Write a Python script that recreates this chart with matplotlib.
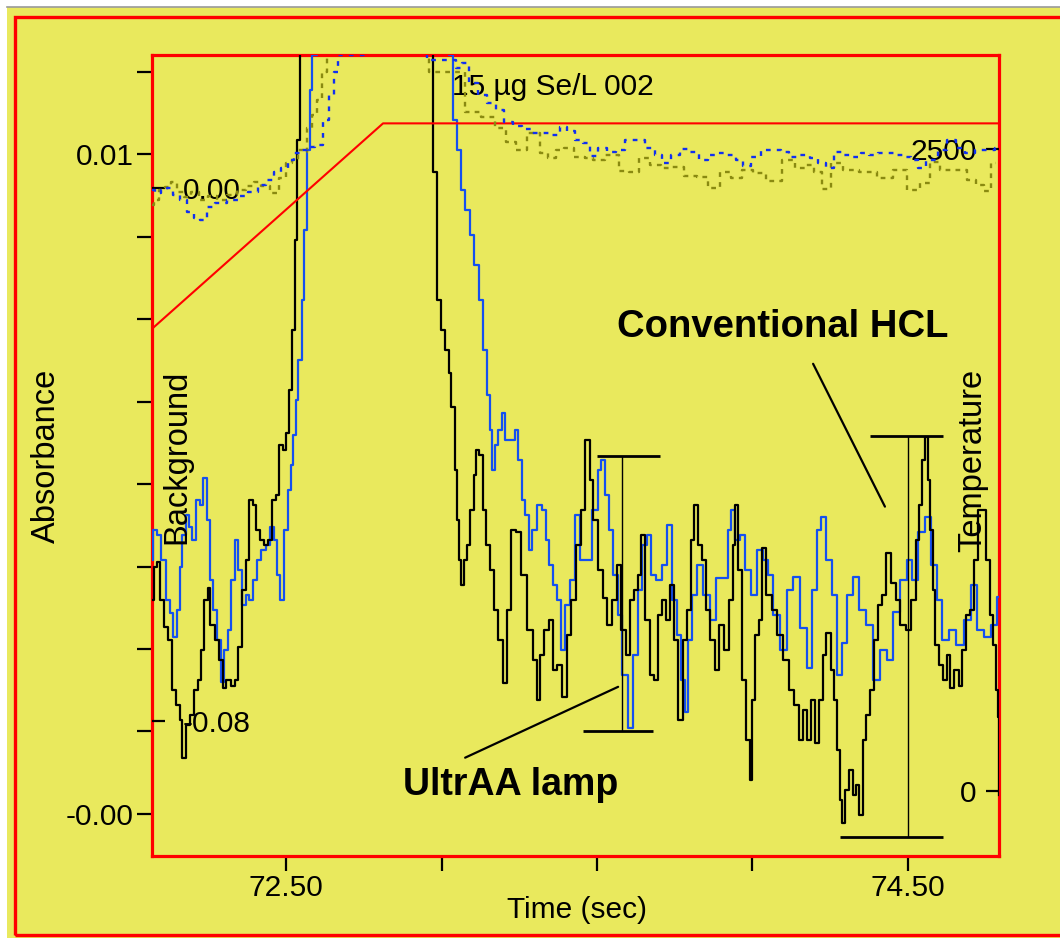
import matplotlib.pyplot as plt
import matplotlib.patches as patches
from matplotlib.lines import Line2D
import numpy as np

plt.rcParams['font.family'] = ['Liberation Sans', 'DejaVu Sans']

YELLOW = '#E9E95D'
BLUE = '#1450F0'

# conventional HCL signal, time (s) / absorbance x1000
hcl_time = [72.069, 72.079, 72.088, 72.101, 72.111, 72.127, 72.137, 72.153, 72.162, 72.172,
            72.182, 72.198, 72.211, 72.220, 72.230, 72.243, 72.252, 72.262, 72.278, 72.291,
            72.301, 72.314, 72.330, 72.342, 72.352, 72.365, 72.378, 72.387, 72.400, 72.410,
            72.423, 72.436, 72.449, 72.461, 72.474, 72.484, 72.494, 72.503, 72.513, 72.523,
            72.532, 72.539, 72.550, 72.770, 72.965, 72.982, 72.992, 73.005, 73.018, 73.027,
            73.037, 73.047, 73.053, 73.059, 73.066, 73.076, 73.088, 73.098, 73.108, 73.117,
            73.127, 73.137, 73.150, 73.162, 73.175, 73.191, 73.204, 73.217, 73.230, 73.249,
            73.265, 73.285, 73.301, 73.310, 73.323, 73.339, 73.352, 73.365, 73.381, 73.394,
            73.410, 73.426, 73.439, 73.455, 73.471, 73.481, 73.494, 73.510, 73.526, 73.539,
            73.555, 73.571, 73.584, 73.600, 73.613, 73.625, 73.638, 73.648, 73.661, 73.677,
            73.690, 73.703, 73.715, 73.728, 73.741, 73.754, 73.770, 73.783, 73.796, 73.809,
            73.818, 73.831, 73.844, 73.857, 73.873, 73.886, 73.899, 73.915, 73.931, 73.941,
            73.947, 73.960, 73.973, 73.986, 73.995, 74.005, 74.014, 74.027, 74.037, 74.053,
            74.072, 74.088, 74.108, 74.127, 74.143, 74.156, 74.169, 74.182, 74.195, 74.207,
            74.220, 74.233, 74.243, 74.259, 74.268, 74.275, 74.285, 74.291, 74.304, 74.317,
            74.330, 74.339, 74.349, 74.359, 74.371, 74.384, 74.397, 74.410, 74.423, 74.436,
            74.452, 74.468, 74.484, 74.503, 74.519, 74.532, 74.542, 74.551, 74.558, 74.568,
            74.577, 74.584, 74.593, 74.606, 74.619, 74.632, 74.641, 74.658, 74.670, 74.680,
            74.693, 74.706, 74.719, 74.732, 74.744, 74.757, 74.770, 74.780, 74.786, 74.793,
            74.793]
hcl_mabs = [1.89, 2.49, 2.58, 1.89, 1.40, 1.16, 0.25, -0.02, -0.29, -0.98,
            -0.38, -0.20, 0.25, 0.44, 0.98, 1.89, 2.11, 1.44, 1.16, 0.80,
            0.29, 0.44, 0.33, 0.44, 1.04, 2.07, 2.62, 3.71, 3.62, 3.17,
            2.98, 2.89, 2.98, 3.71, 3.80, 4.71, 4.62, 4.93, 5.71, 6.81,
            8.44, 10.26, 13.0, 30.0, 13.5, 9.68, 7.35, 6.81, 6.44, 6.02,
            5.41, 4.26, 3.35, 2.62, 2.17, 2.62, 2.89, 3.53, 4.17, 4.62,
            4.53, 3.53, 2.89, 2.44, 1.71, 1.16, 0.38, 1.71, 3.17, 3.13,
            2.35, 1.35, 0.80, 0.07, 0.89, 1.35, 1.53, 0.62, 0.71, 0.13,
            1.26, 1.89, 2.89, 3.53, 4.80, 4.08, 3.35, 2.44, 1.93, 1.44,
            1.89, 2.53, 1.35, 0.89, 1.89, 2.07, 2.35, 3.08, 1.53, 0.53,
            0.44, 1.62, 1.89, 1.53, 2.17, 1.16, -0.29, 1.16, 1.71, 2.98,
            3.62, 2.89, 2.62, 1.71, 1.16, 0.62, 1.44, 0.98, 1.89, 2.89,
            3.62, 2.44, 0.44, -0.66, -1.38, 0.07, 1.26, 1.53, 2.84, 1.98,
            1.71, 1.26, 0.80, 0.25, -0.02, -0.66, -0.11, -0.66, 0.07, -0.71,
            0.07, 0.89, 1.29, 0.62, 0.07, -0.84, -1.75, -2.17, -1.57, -1.20,
            -1.66, -1.47, -2.02, -0.66, -0.20, 0.25, 1.16, 1.80, 1.98, 2.75,
            2.20, 1.89, 1.44, 1.35, 1.89, 2.98, 3.62, 4.44, 4.86, 4.08,
            3.17, 2.07, 1.07, 0.71, 0.44, 0.89, 0.29, 0.62, 0.33, 0.98,
            1.62, 1.71, 2.62, 3.53, 3.53, 2.62, 1.62, 1.07, 0.25, -0.24,
            -1.66]

# UltrAA lamp signal
ultra_time = [72.069, 72.076, 72.092, 72.105, 72.121, 72.130, 72.143, 72.156, 72.162, 72.172,
              72.182, 72.191, 72.204, 72.217, 72.227, 72.240, 72.249, 72.259, 72.272, 72.285,
              72.294, 72.307, 72.317, 72.330, 72.339, 72.352, 72.365, 72.378, 72.387, 72.400,
              72.413, 72.429, 72.445, 72.455, 72.465, 72.474, 72.487, 72.500, 72.510, 72.519,
              72.529, 72.535, 72.545, 72.555, 72.561, 72.571, 72.580, 72.587, 72.609, 72.802,
              73.011, 73.034, 73.043, 73.056, 73.069, 73.085, 73.098, 73.114, 73.130, 73.140,
              73.150, 73.159, 73.166, 73.175, 73.188, 73.198, 73.211, 73.227, 73.243, 73.252,
              73.265, 73.275, 73.285, 73.297, 73.314, 73.330, 73.342, 73.352, 73.365, 73.378,
              73.391, 73.404, 73.420, 73.439, 73.452, 73.474, 73.494, 73.510, 73.519, 73.532,
              73.545, 73.558, 73.574, 73.590, 73.609, 73.625, 73.638, 73.654, 73.667, 73.683,
              73.699, 73.719, 73.732, 73.748, 73.764, 73.777, 73.786, 73.799, 73.815, 73.831,
              73.854, 73.876, 73.892, 73.915, 73.928, 73.937, 73.953, 73.966, 73.986, 74.005,
              74.024, 74.043, 74.056, 74.076, 74.098, 74.121, 74.140, 74.166, 74.185, 74.201,
              74.217, 74.227, 74.246, 74.265, 74.281, 74.297, 74.314, 74.333, 74.355, 74.378,
              74.397, 74.423, 74.442, 74.465, 74.487, 74.506, 74.522, 74.545, 74.564, 74.584,
              74.600, 74.622, 74.641, 74.667, 74.693, 74.715, 74.732, 74.757, 74.780, 74.793]
ultra_mabs = [2.62, 3.17, 3.08, 2.62, 1.89, 1.66, 1.22, 1.71, 2.49, 3.08,
              3.44, 3.22, 2.98, 3.71, 3.62, 4.11, 3.35, 2.26, 1.71, 1.16,
              0.40, 0.98, 1.35, 2.26, 2.98, 2.44, 1.80, 1.98, 1.89, 2.26,
              2.62, 2.80, 2.89, 3.22, 2.98, 2.35, 1.89, 3.17, 3.89, 4.35,
              4.90, 5.53, 6.26, 7.35, 8.63, 10.08, 11.17, 11.81, 13.0, 30.0,
              14.0, 11.81, 10.63, 10.08, 9.35, 8.99, 8.54, 7.99, 7.35, 6.44,
              5.62, 4.99, 4.26, 4.71, 4.99, 5.30, 4.80, 4.80, 4.99, 4.44,
              3.71, 3.44, 2.80, 3.17, 3.62, 3.53, 2.98, 2.53, 2.17, 1.89,
              0.98, 1.80, 2.26, 3.44, 2.62, 2.62, 3.53, 4.26, 4.44, 3.80,
              3.17, 2.35, 1.62, 0.53, -0.44, 0.89, 2.07, 2.89, 3.08, 2.35,
              2.26, 2.53, 3.26, 1.89, 1.26, 0.44, -0.15, 1.16, 1.98, 2.53,
              1.98, 1.53, 2.29, 2.29, 3.17, 3.53, 2.98, 3.08, 2.44, 1.98,
              2.80, 2.62, 2.35, 1.62, 0.98, 2.07, 2.31, 1.38, 0.66, 2.07,
              3.17, 3.40, 2.62, 1.98, 0.53, 1.11, 1.98, 2.31, 1.71, 1.44,
              0.44, 0.98, 0.80, 1.67, 2.26, 2.62, 2.26, 3.13, 3.40, 2.53,
              1.89, 1.16, 1.35, 1.07, 1.53, 2.17, 1.35, 1.22, 1.44, 1.95]

# background signals (absorbance x1000, background scale)
bg_hcl_time = [72.069, 72.085, 72.101, 72.121, 72.140, 72.159, 72.185, 72.207, 72.233, 72.262,
               72.297, 72.326, 72.359, 72.384, 72.407, 72.432, 72.468, 72.490, 72.510, 72.529,
               72.545, 72.561, 72.577, 72.593, 72.606, 72.625, 72.641, 72.867, 73.050, 73.101,
               73.156, 73.188, 73.227, 73.252, 73.301, 73.333, 73.355, 73.381, 73.404, 73.445,
               73.477, 73.500, 73.551, 73.590, 73.616, 73.654, 73.686, 73.725, 73.760, 73.802,
               73.844, 73.873, 73.921, 73.944, 73.986, 74.018, 74.069, 74.121, 74.153, 74.185,
               74.211, 74.236, 74.268, 74.314, 74.371, 74.429, 74.474, 74.522, 74.555, 74.584,
               74.625, 74.674, 74.706, 74.732, 74.754, 74.783]
bg_hcl_mabs = [-2.55, -1.8, -0.3, 0.15, 0.9, -0.6, -1.35, -0.6, -1.8, -1.2,
               -1.8, -1.05, -0.3, 0.3, 0.9, 0.3, -0.75, 1.5, 3.75, 4.2,
               5.7, 5.4, 9.0, 10.95, 13.2, 17.4, 20.7, 40.0, 17.4, 11.4,
               10.65, 9.0, 6.9, 5.7, 8.25, 5.25, 4.5, 5.7, 6.0, 4.65,
               4.5, 4.2, 4.95, 2.55, 2.4, 4.5, 3.45, 3.0, 3.15, 1.8,
               1.65, 0.0, 2.4, 1.5, 2.7, 2.25, 1.05, 4.2, 3.0, 3.45,
               2.4, -0.15, 3.75, 2.7, 2.4, 1.5, 2.7, -0.3, 0.75, 3.9,
               2.7, 2.7, 1.2, 0.45, -0.45, 3.75]

bg_ultra_time = [72.069, 72.088, 72.108, 72.127, 72.146, 72.169, 72.191, 72.214, 72.233, 72.256,
                 72.288, 72.330, 72.362, 72.394, 72.423, 72.449, 72.474, 72.494, 72.516, 72.535,
                 72.555, 72.577, 72.609, 72.629, 72.645, 72.661, 72.674, 72.867, 73.040, 73.053,
                 73.076, 73.101, 73.133, 73.162, 73.188, 73.214, 73.243, 73.275, 73.307, 73.339,
                 73.371, 73.394, 73.413, 73.445, 73.468, 73.490, 73.516, 73.548, 73.574, 73.606,
                 73.629, 73.677, 73.696, 73.722, 73.751, 73.780, 73.809, 73.844, 73.870, 73.889,
                 73.931, 73.960, 73.979, 74.014, 74.043, 74.079, 74.105, 74.133, 74.169, 74.198,
                 74.224, 74.246, 74.278, 74.307, 74.333, 74.362, 74.387, 74.420, 74.449, 74.474,
                 74.497, 74.522, 74.545, 74.568, 74.587, 74.609, 74.641, 74.667, 74.699, 74.732,
                 74.764, 74.793]
bg_ultra_mabs = [-0.3, -0.75, -0.3, 0.0, -1.05, -1.8, -3.6, -4.5, -4.8, -2.85,
                 -2.25, -1.8, -1.2, -0.6, 0.45, 1.2, 2.4, 3.0, 4.2, 5.25,
                 5.7, 6.15, 6.45, 10.2, 13.95, 17.4, 19.95, 40.0, 19.2, 18.0,
                 18.75, 15.75, 13.95, 12.75, 11.7, 9.9, 9.3, 8.85, 8.25, 8.25,
                 7.95, 9.15, 8.55, 7.2, 6.75, 4.8, 6.0, 5.4, 5.7, 7.2,
                 7.2, 6.0, 4.95, 3.75, 4.95, 5.85, 5.4, 4.2, 4.95, 5.25,
                 4.95, 4.2, 3.3, 4.65, 5.7, 5.7, 5.4, 4.65, 4.95, 4.5,
                 3.75, 3.0, 5.4, 4.95, 4.65, 5.25, 4.95, 5.25, 5.25, 4.95,
                 4.65, 4.2, 3.0, 4.2, 4.2, 5.7, 7.2, 6.0, 5.25, 5.7,
                 5.7, 6.0]

# furnace temperature program
temp_time = [72.069, 72.812, 74.793]
temp_c = [1800, 2600, 2600]

# noise ranges (min, max) marked with brackets
ultra_range = [-0.49, 4.51]
hcl_range = [-2.42, 4.88]

fig = plt.figure(figsize=(10.6, 9.38), dpi=100)
fig.patch.set_facecolor('white')
fig.add_artist(patches.Rectangle((0.0066, 0), 1, 0.9925, transform=fig.transFigure,
                                 facecolor=YELLOW, edgecolor='none', zorder=-2))
fig.add_artist(Line2D([0.0066, 1], [0.9925, 0.9925], transform=fig.transFigure,
                      color='#9a9a9a', lw=1.2, zorder=-1))
fig.add_artist(patches.Rectangle((0.0142, 0.0032), 1.02, 0.9787, transform=fig.transFigure,
                                 facecolor='none', edgecolor='red', lw=2.4, zorder=-1))

ax = fig.add_axes([0.1434, 0.0874, 0.7991, 0.8539])
ax.set_facecolor(YELLOW)
ax.set_xlim(72.069, 74.793)
ax.set_ylim(-2.77e-3, 11.81e-3)
for s in ax.spines.values():
    s.set_color('red')
    s.set_linewidth(2.3)

ax.set_xticks([72.5, 73.0, 73.5, 74.0, 74.5])
ax.set_xticklabels(['72.50', '', '', '', '74.50'])
yt = [(-2 + 1.5 * k) / 1000 for k in range(10)]
ax.set_yticks(yt)
ax.set_yticklabels(['-0.00', '', '', '', '', '', '', '', '0.01', ''])
ax.tick_params(direction='out', length=11, width=1.6, color='black', labelsize=21.5, pad=2)

# temperature axis
ax2 = ax.twinx()
for s in ax2.spines.values():
    s.set_visible(False)
ax2.set_ylim(-253, 2866)
ax2.plot(temp_time, temp_c, color='red', lw=1.5)
ax2.set_yticks([0, 2500])
ax2.set_yticklabels(['0', '2500'])
ax2.tick_params(axis='y', direction='in', length=9.5, width=1.6, labelsize=21.5, pad=-16)
for lab in ax2.get_yticklabels():
    lab.set_horizontalalignment('right')

# background axis
ax3 = ax.twinx()
for s in ax3.spines.values():
    s.set_visible(False)
ax3.set_ylim(-0.1003, 0.01996)
ax3.plot(bg_hcl_time, np.array(bg_hcl_mabs) / 1000, color='#8a8a10', lw=1.7,
         dashes=(2.0, 2.2), drawstyle='steps-mid')
ax3.plot(bg_ultra_time, np.array(bg_ultra_mabs) / 1000, color='#1030F0', lw=1.7,
         dashes=(2.0, 2.6), drawstyle='steps-mid')
ax3.yaxis.tick_left()
ax3.set_yticks([0, -0.08])
ax3.set_yticklabels(['0.00', '-0.08'])
ax3.tick_params(axis='y', direction='in', length=9.5, width=1.6, labelsize=21.5, pad=-22)
for lab in ax3.get_yticklabels():
    lab.set_horizontalalignment('left')

# main signals
ax.plot(ultra_time, np.array(ultra_mabs) / 1000, color=BLUE, lw=1.6, zorder=3,
        drawstyle='steps-mid')
ax.plot(hcl_time, np.array(hcl_mabs) / 1000, color='black', lw=1.6, zorder=4,
        drawstyle='steps-mid')

# noise range brackets
ax.vlines(73.580, ultra_range[0] / 1000, ultra_range[1] / 1000, color='black', lw=1.0, zorder=5)
ax.hlines(ultra_range[1] / 1000, 73.500, 73.703, color='black', lw=2.0, zorder=5)
ax.hlines(ultra_range[0] / 1000, 73.455, 73.680, color='black', lw=2.0, zorder=5)
ax.vlines(74.500, hcl_range[0] / 1000, hcl_range[1] / 1000, color='black', lw=1.0, zorder=5)
ax.hlines(hcl_range[1] / 1000, 74.378, 74.613, color='black', lw=2.0, zorder=5)
ax.hlines(hcl_range[0] / 1000, 74.281, 74.613, color='black', lw=2.0, zorder=5)

# leader lines
ax.annotate('', xy=(73.568, 0.31e-3), xytext=(73.076, -0.98e-3),
            arrowprops=dict(arrowstyle='-', color='black', lw=1.6, shrinkA=0, shrinkB=0))
ax.annotate('', xy=(74.426, 3.59e-3), xytext=(74.195, 6.19e-3),
            arrowprops=dict(arrowstyle='-', color='black', lw=1.6, shrinkA=0, shrinkB=0))

ax.text(0.549, 0.648, 'Conventional HCL', transform=ax.transAxes, fontsize=27.5,
        fontweight='bold', ha='left', va='baseline')
ax.text(0.2963, 0.0762, 'UltrAA lamp', transform=ax.transAxes, fontsize=27,
        fontweight='bold', ha='left', va='baseline')
ax.text(0.354, 0.950, '15 µg Se/L 002', transform=ax.transAxes, fontsize=21.5,
        ha='left', va='baseline')
ax.text(0.0295, 0.498, 'Background', transform=ax.transAxes, fontsize=23.5,
        rotation=90, ha='center', va='center')
ax.text(0.969, 0.494, 'Temperature', transform=ax.transAxes, fontsize=23.5,
        rotation=90, ha='center', va='center')
fig.text(46 / 1060, 1 - 456 / 938, 'Absorbance', fontsize=23.5, rotation=90,
         ha='center', va='center')
fig.text(577 / 1060, 1 - 910 / 938, 'Time (sec)', fontsize=21.5, ha='center', va='center')

fig.savefig('out.png', dpi=100, facecolor=fig.get_facecolor())
